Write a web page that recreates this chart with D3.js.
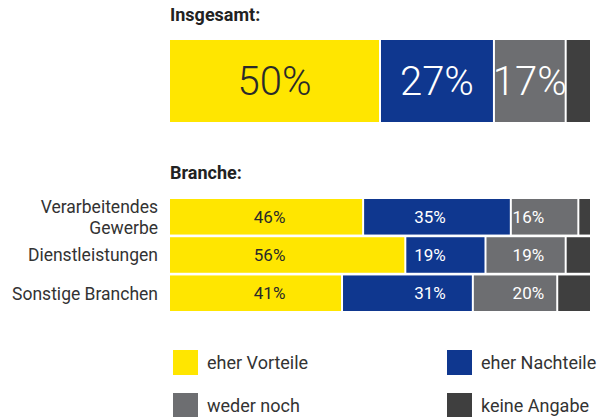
<!DOCTYPE html>
<html>
<head>
<meta charset="utf-8">
<script src="https://cdn.jsdelivr.net/npm/d3@7"></script>
<style>
  html, body { margin: 0; padding: 0; background: #fff; }
  svg { display: block; font-family: Roboto, "Open Sans", "DejaVu Sans", sans-serif; }
</style>
</head>
<body>
<svg id="chart" width="607" height="417"></svg>
<script>
// ---- data ----
const seriesNames = ["eher Vorteile", "eher Nachteile", "weder noch", "keine Angabe"];
const seriesColors = ["#FFE600", "#0F378F", "#6D6E71", "#3F3F3F"];
const labelColors = ["#2a2a2a", "#ffffff", "#ffffff", null];

const totalTitle = "Insgesamt:";
const totalValues = [50, 27, 17, 6];

const branchTitle = "Branche:";
const branchCategories = [["Verarbeitendes", "Gewerbe"], ["Dienstleistungen"], ["Sonstige Branchen"]];
const vorteile  = [46, 56, 41];
const nachteile = [35, 19, 31];
const weder     = [16, 19, 20];
const keine     = [3, 6, 8];

// ---- layout ----
const svg = d3.select("#chart");
const textColor = "#333333";
const x = d3.scaleLinear().domain([0, 100]).range([170, 592]);
const gap = 2;

function stack(vals) {
  let acc = 0;
  return vals.map((v, i) => { const s = acc; acc += v; return { i, v, s, e: acc }; });
}

// Titles
svg.append("text").attr("x", 170).attr("y", 21).attr("font-weight", 700)
  .attr("font-size", 18).attr("fill", "#222").text(totalTitle);
svg.append("text").attr("x", 170).attr("y", 179).attr("font-weight", 700)
  .attr("font-size", 18).attr("fill", "#222").text(branchTitle);

// Total bar
const yTop = d3.scaleBand().domain(["total"]).range([40, 122]);
const tot = stack(totalValues);
const gTot = svg.append("g");
gTot.selectAll("rect").data(tot).join("rect")
  .attr("x", d => x(d.s))
  .attr("y", yTop("total"))
  .attr("width", d => Math.max(0, x(d.e) - x(d.s) - gap))
  .attr("height", yTop.bandwidth())
  .attr("fill", d => seriesColors[d.i]);
gTot.selectAll("text").data(tot.filter(d => labelColors[d.i])).join("text")
  .attr("x", d => (x(d.s) + x(d.e) - gap) / 2)
  .attr("y", yTop("total") + yTop.bandwidth() / 2)
  .attr("dy", "0.36em")
  .attr("text-anchor", "middle")
  .attr("font-size", 40).attr("font-weight", 300)
  .attr("fill", d => labelColors[d.i])
  .text(d => d.v + "%");

// Branch bars
const rows = branchCategories.map((c, r) => ({ r, c, vals: [vorteile[r], nachteile[r], weder[r], keine[r]] }));
const y = d3.scaleBand().domain(d3.range(rows.length)).range([199, 311]).paddingInner(0.07);
const allSegs = rows.flatMap(row => stack(row.vals).map(d => ({ ...d, r: row.r })));

// label x columns: mean of segment centers per series (original aligns labels in columns)
const colX = seriesNames.map((_, i) =>
  d3.mean(allSegs.filter(d => d.i === i), d => (x(d.s) + x(d.e) - gap) / 2));

const gB = svg.append("g");
gB.selectAll("rect").data(allSegs).join("rect")
  .attr("x", d => x(d.s))
  .attr("y", d => y(d.r))
  .attr("width", d => Math.max(0, x(d.e) - x(d.s) - gap))
  .attr("height", y.bandwidth())
  .attr("fill", d => seriesColors[d.i]);
gB.selectAll("text.val").data(allSegs.filter(d => labelColors[d.i])).join("text")
  .attr("class", "val")
  .attr("x", d => colX[d.i])
  .attr("y", d => y(d.r) + y.bandwidth() / 2)
  .attr("dy", "0.36em")
  .attr("text-anchor", "middle")
  .attr("font-size", 17)
  .attr("fill", d => labelColors[d.i])
  .text(d => d.v + "%");

// Category labels
const lineH = 21;
rows.forEach(row => {
  const cy = y(row.r) + y.bandwidth() / 2;
  const n = row.c.length;
  row.c.forEach((line, k) => {
    svg.append("text")
      .attr("x", 158).attr("y", cy + (k - (n - 1) / 2) * lineH)
      .attr("dy", "0.36em").attr("text-anchor", "end")
      .attr("font-size", 17.5).attr("fill", textColor)
      .text(line);
  });
});

// Legend
const legX = [173, 447];
const legY = [350, 393];
const gL = svg.append("g");
seriesNames.forEach((name, i) => {
  const lx = legX[i % 2], ly = legY[Math.floor(i / 2)];
  gL.append("rect").attr("x", lx).attr("y", ly).attr("width", 25).attr("height", 25)
    .attr("fill", seriesColors[i]);
  gL.append("text").attr("x", lx + 34).attr("y", ly + 12.5).attr("dy", "0.36em")
    .attr("font-size", 18).attr("fill", textColor).text(name);
});
</script>
</body>
</html>
